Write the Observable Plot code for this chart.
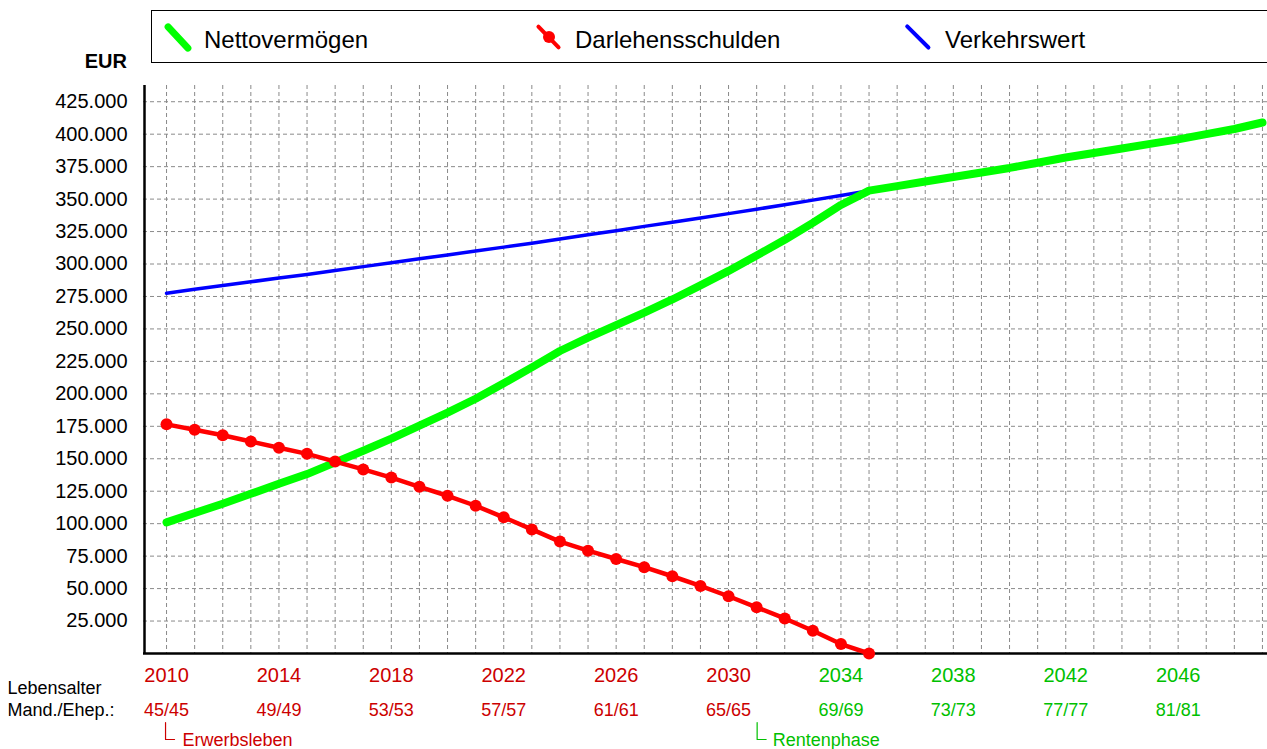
<!DOCTYPE html>
<html>
<head>
<meta charset="utf-8">
<script src="https://cdn.jsdelivr.net/npm/d3@7"></script>
<script src="https://cdn.jsdelivr.net/npm/@observablehq/plot@0.6"></script>
<style>
  html, body { margin: 0; padding: 0; background: #fff; }
  #wrap { position: relative; width: 1267px; height: 749px; overflow: hidden;
          font-family: 'Liberation Sans', Arial, sans-serif; color: #000; }
  #head { position: relative; width: 1267px; height: 65px; }
  .abs { position: absolute; }
  .lt { position: absolute; top: 26px; font-size: 24px; line-height: 28px; white-space: nowrap; }
  .ic { position: absolute; border-radius: 4px; }
</style>
</head>
<body>
<div id="wrap">
  <div id="head">
    <div class="abs" style="left:0;top:50px;width:127px;text-align:right;font-size:20px;line-height:23px;font-weight:bold;">EUR</div>
    <div class="abs" style="left:151px;top:10px;width:1140px;height:53px;border:1.5px solid #000;box-sizing:border-box;"></div>
    <div class="ic" style="left:160px;top:33.5px;width:36px;height:7px;background:#00ff00;transform:rotate(47deg);"></div>
    <div class="lt" style="left:204px;">Nettovermögen</div>
    <div class="ic" style="left:532px;top:35px;width:33px;height:4px;background:#ff0000;transform:rotate(46deg);"></div>
    <div class="abs" style="left:543px;top:31px;width:12px;height:12px;border-radius:6px;background:#ff0000;"></div>
    <div class="lt" style="left:575px;">Darlehensschulden</div>
    <div class="ic" style="left:901px;top:35.25px;width:34px;height:3.5px;background:#0000ff;transform:rotate(45deg);"></div>
    <div class="lt" style="left:945px;">Verkehrswert</div>
  </div>
  <div id="chart"></div>
</div>
<script>
// ---------- data ----------
const years = [2010,2011,2012,2013,2014,2015,2016,2017,2018,2019,2020,2021,2022,2023,2024,2025,2026,2027,2028,2029,
               2030,2031,2032,2033,2034,2035,2036,2037,2038,2039,2040,2041,2042,2043,2044,2045,2046,2047,2048,2049];
const nettovermoegen = [101000,108200,115400,123000,130700,138200,147200,156200,165500,175600,
                        185500,196200,208100,220400,233000,243300,252900,262500,272700,283500,
                        294700,306600,318600,331700,345500,356500,360000,363500,367000,370500,
                        374000,378000,382000,385500,389000,392500,396000,400000,404000,409000];
const darlehensschulden = [176500,172300,168100,163300,158500,153800,147800,141800,135500,128400,
                           121500,113800,104900,95600,86200,79200,72800,66500,59500,52000,
                           44100,35600,27000,17500,7300,0];
const verkehrswert = [277500,280500,283500,286300,289200,292000,295000,298000,301000,304000,
                      307000,310000,313000,316000,319200,322500,325700,329000,332200,335500,
                      338800,342200,345600,349200,352800,356500];
const yTicks = [25000,50000,75000,100000,125000,150000,175000,200000,225000,250000,
                275000,300000,325000,350000,375000,400000,425000];
const yearLabels = [2010,2014,2018,2022,2026,2030,2034,2038,2042,2046];
const ageLabels = ["45/45","49/49","53/53","57/57","61/61","65/65","69/69","73/73","77/77","81/81"];
const phaseNames = ["Erwerbsleben","Rentenphase"];
const phaseStart = [2010, 2031];
const seriesNames = ["Nettovermögen","Darlehensschulden","Verkehrswert"];

// ---------- build tables ----------
const RED_TXT = "#cc0000", GREEN_TXT = "#00c000";
const netData = years.map((y,i) => ({year:y, value:nettovermoegen[i], series:seriesNames[0]}));
const debtData = darlehensschulden.map((v,i) => ({year:years[i], value:v, series:seriesNames[1]}));
const valData = verkehrswert.map((v,i) => ({year:years[i], value:v, series:seriesNames[2]}));
const labelData = yearLabels.map((y,i) => ({year:y, age:ageLabels[i], retired: y >= phaseStart[1]}));
const phases = phaseNames.map((n,i) => ({name:n, start:phaseStart[i], retired:i===1}));

const de = d3.formatLocale({decimal:",", thousands:".", grouping:[3], currency:["","€"]});
const fmt = de.format(",d");
const x0 = 2009.18, x1 = 2049.18;
const grid = {stroke:"#8a8a8a", strokeDasharray:"4,3", strokeWidth:1};
const under = {frameAnchor:"bottom", lineAnchor:"middle"};
// small "L"-shaped bracket drawn by a vector mark
const bracket = {draw(context, l) { context.moveTo(0, -l); context.lineTo(0, 0); context.lineTo(9, 0); }};

const chart = Plot.plot({
  width: 1267, height: 684,
  marginTop: 20, marginBottom: 96, marginLeft: 143, marginRight: 0,
  x: {domain:[x0, x1], axis: null},
  y: {domain:[0, 437500], axis: null},
  style: {fontFamily:"'Liberation Sans', Arial, sans-serif", fontSize:"20px", color:"#000", background:"#fff", overflow:"visible"},
  marks: [
    Plot.ruleY(yTicks, grid),
    Plot.ruleX(years, grid),
    Plot.ruleY([0], {stroke:"#000", strokeWidth:2.5}),
    Plot.ruleX([x0], {stroke:"#000", strokeWidth:2.5, dx:1}),
    Plot.axisY(yTicks, {anchor:"left", tickSize:0, tickPadding:16, tickFormat:fmt, fontSize:20, label:null}),
    // year labels
    Plot.text(labelData.filter(d => !d.retired), {...under, x:"year", text:d => String(d.year), dy:22, fill:RED_TXT, fontSize:20}),
    Plot.text(labelData.filter(d => d.retired), {...under, x:"year", text:d => String(d.year), dy:22, fill:GREEN_TXT, fontSize:20}),
    // age labels
    Plot.text(labelData.filter(d => !d.retired), {...under, x:"year", text:"age", dy:57, fill:RED_TXT, fontSize:18}),
    Plot.text(labelData.filter(d => d.retired), {...under, x:"year", text:"age", dy:57, fill:GREEN_TXT, fontSize:18}),
    Plot.text(["Lebensalter"], {frameAnchor:"bottom-left", lineAnchor:"middle", dx:-136, dy:35, textAnchor:"start", fontSize:18, fill:"#000"}),
    Plot.text(["Mand./Ehep.:"], {frameAnchor:"bottom-left", lineAnchor:"middle", dx:-136, dy:57, textAnchor:"start", fontSize:18, fill:"#000"}),
    // phase labels with brackets
    Plot.vector(phases.filter(d => !d.retired), {x:"start", frameAnchor:"bottom", dy:86, dx:-1, length:17, anchor:"start", shape:bracket, stroke:RED_TXT, strokeWidth:1.2, fill:"none"}),
    Plot.vector(phases.filter(d => d.retired), {x:"start", frameAnchor:"bottom", dy:86, dx:0.5, length:17, anchor:"start", shape:bracket, stroke:GREEN_TXT, strokeWidth:1.2, fill:"none"}),
    Plot.text(phases.filter(d => !d.retired), {...under, x:"start", text:"name", dy:87, dx:16, textAnchor:"start", fontSize:18, fill:RED_TXT}),
    Plot.text(phases.filter(d => d.retired), {...under, x:"start", text:"name", dy:87, dx:16, textAnchor:"start", fontSize:18, fill:GREEN_TXT}),
    // series
    Plot.line(valData, {x:"year", y:"value", stroke:"#0000ff", strokeWidth:3.5}),
    Plot.line(netData, {x:"year", y:"value", stroke:"#00ff00", strokeWidth:8, strokeLinecap:"round", strokeLinejoin:"round"}),
    Plot.line(debtData, {x:"year", y:"value", stroke:"#ff0000", strokeWidth:4.5}),
    Plot.dot(debtData, {x:"year", y:"value", r:6, fill:"#ff0000", stroke:null})
  ]
});
document.getElementById("chart").appendChild(chart);
</script>
</body>
</html>
